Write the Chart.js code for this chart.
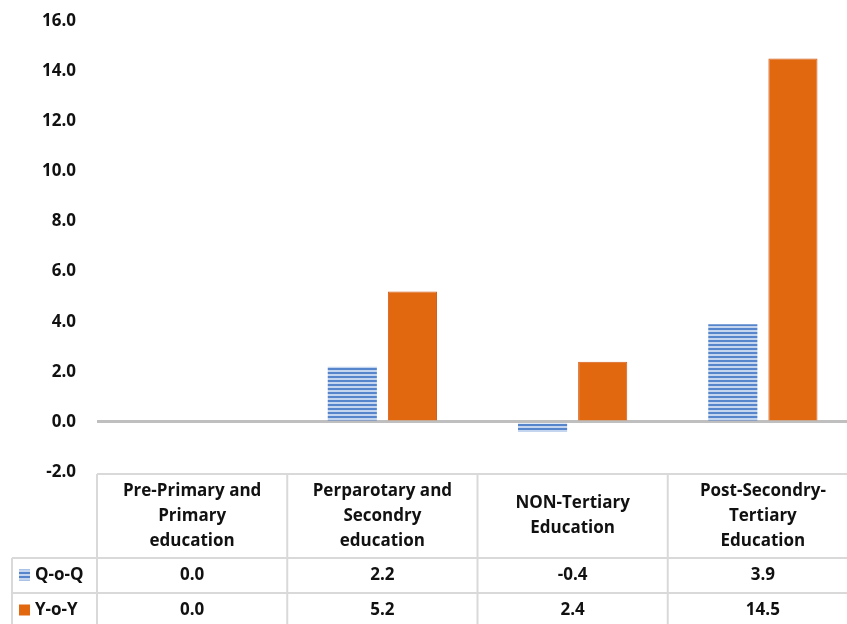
<!DOCTYPE html>
<html>
<head>
<meta charset="utf-8">
<script src="https://cdn.jsdelivr.net/npm/chart.js@4.4.1/dist/chart.umd.min.js"></script>
<style>
  html, body { margin: 0; padding: 0; background: #ffffff; overflow: hidden; }
  #wrap { width: 860px; height: 624px; }
</style>
</head>
<body>
<div id="wrap"><canvas id="chart" width="860" height="624"></canvas></div>
<script>
// Category headers (one entry per line of the wrapped header)
const categories = [
  ["Pre-Primary and", "Primary", "education"],
  ["Perparotary and", "Secondry", "education"],
  ["NON-Tertiary", "Education"],
  ["Post-Secondry-", "Tertiary", "Education"]
];
const seriesNames = ["Q-o-Q", "Y-o-Y"];
const qoqValues = [0.0, 2.2, -0.4, 3.9];
const yoyValues = [0.0, 5.2, 2.4, 14.5];
const yTicks = [-2, 0, 2, 4, 6, 8, 10, 12, 14, 16];

const FONT = "'Open Sans', Lato, sans-serif";
const TEXT = "#111111";
const TABLE_LINE = "#d9d9d9";

// Horizontal-stripe fill for the Q-o-Q bars
function stripePattern() {
  const c = document.createElement("canvas");
  c.width = 4; c.height = 4;
  const g = c.getContext("2d");
  g.fillStyle = "#c3d5ef";
  g.fillRect(0, 0, 4, 4);
  g.fillStyle = "#5685cb";
  g.fillRect(0, 0, 4, 2);
  return g.createPattern(c, "repeat");
}
const ctx0 = document.getElementById("chart").getContext("2d");
const qoqFill = stripePattern();
const yoyFill = "#e2680f";
const seriesFills = [qoqFill, yoyFill];
const seriesValues = [qoqValues, yoyValues];

// Data table drawn underneath the plot area
const dataTable = {
  id: "dataTable",
  afterDraw(chart) {
    const ctx = chart.ctx;
    const area = chart.chartArea;
    const n = categories.length;
    const colW = (area.right - area.left) / n;
    const top = area.bottom + 2;
    const headerBottom = top + 84;
    const rowH = 35;
    const labelLeft = 12;

    ctx.save();
    ctx.strokeStyle = TABLE_LINE;
    ctx.lineWidth = 2;
    ctx.beginPath();
    // header top edge
    ctx.moveTo(area.left, top); ctx.lineTo(area.right, top);
    // row separators
    for (let r = 0; r < seriesNames.length; r++) {
      const y = headerBottom + r * rowH;
      ctx.moveTo(labelLeft, y); ctx.lineTo(area.right, y);
    }
    const tableBottom = headerBottom + seriesNames.length * rowH;
    ctx.moveTo(labelLeft, tableBottom); ctx.lineTo(area.right, tableBottom);
    // column separators
    for (let i = 0; i <= n; i++) {
      const x = area.left + i * colW;
      ctx.moveTo(x, top); ctx.lineTo(x, tableBottom);
    }
    ctx.moveTo(labelLeft, headerBottom); ctx.lineTo(labelLeft, tableBottom);
    ctx.stroke();

    ctx.fillStyle = TEXT;
    ctx.font = "bold 17px " + FONT;
    ctx.textAlign = "center";
    ctx.textBaseline = "middle";
    const lineH = 25;
    const headMid = (top + headerBottom) / 2;
    categories.forEach((lines, i) => {
      const cx = area.left + (i + 0.5) * colW;
      const y0 = headMid - (lines.length - 1) * lineH / 2;
      lines.forEach((t, k) => ctx.fillText(t, cx, y0 + k * lineH));
    });

    seriesNames.forEach((name, r) => {
      const cy = headerBottom + r * rowH + rowH / 2;
      // legend key
      ctx.fillStyle = seriesFills[r];
      ctx.fillRect(19, cy - 6, 11, 11);
      ctx.fillStyle = TEXT;
      ctx.textAlign = "left";
      ctx.fillText(name, 35, cy);
      ctx.textAlign = "center";
      seriesValues[r].forEach((v, i) => {
        const cx = area.left + (i + 0.5) * colW;
        ctx.fillText(v.toFixed(1), cx, cy);
      });
    });
    ctx.restore();
  }
};

new Chart(ctx0, {
  type: "bar",
  data: {
    labels: categories,
    datasets: [
      { label: seriesNames[0], data: qoqValues, backgroundColor: qoqFill,
        borderWidth: 0 },
      { label: seriesNames[1], data: yoyValues, backgroundColor: yoyFill,
        borderColor: "#d35d1e", borderWidth: 1 }
    ]
  },
  options: {
    responsive: false,
    devicePixelRatio: 1,
    animation: false,
    layout: { padding: { top: 21, right: 2, bottom: 144, left: 0 } },
    datasets: { bar: { categoryPercentage: 0.632, barPercentage: 0.817 } },
    plugins: { legend: { display: false }, tooltip: { enabled: false } },
    scales: {
      x: {
        ticks: { display: false },
        grid: { display: false },
        border: { display: false }
      },
      y: {
        min: -2, max: 16,
        afterBuildTicks(scale) { scale.ticks = yTicks.map(v => ({ value: v })); },
        afterFit(scale) { scale.width = 97; },
        ticks: {
          padding: 0,
          color: TEXT,
          font: { family: FONT, size: 17, weight: "bold" },
          callback: v => Number(v).toFixed(1)
        },
        grid: {
          drawTicks: true,
          tickLength: 21,
          tickColor: "rgba(0,0,0,0)",
          color: c => (c.tick && c.tick.value === 0 ? "#bfbfbf" : "rgba(0,0,0,0)"),
          lineWidth: c => (c.tick && c.tick.value === 0 ? 3 : 0)
        },
        border: { display: false }
      }
    }
  },
  plugins: [dataTable]
});
</script>
</body>
</html>
